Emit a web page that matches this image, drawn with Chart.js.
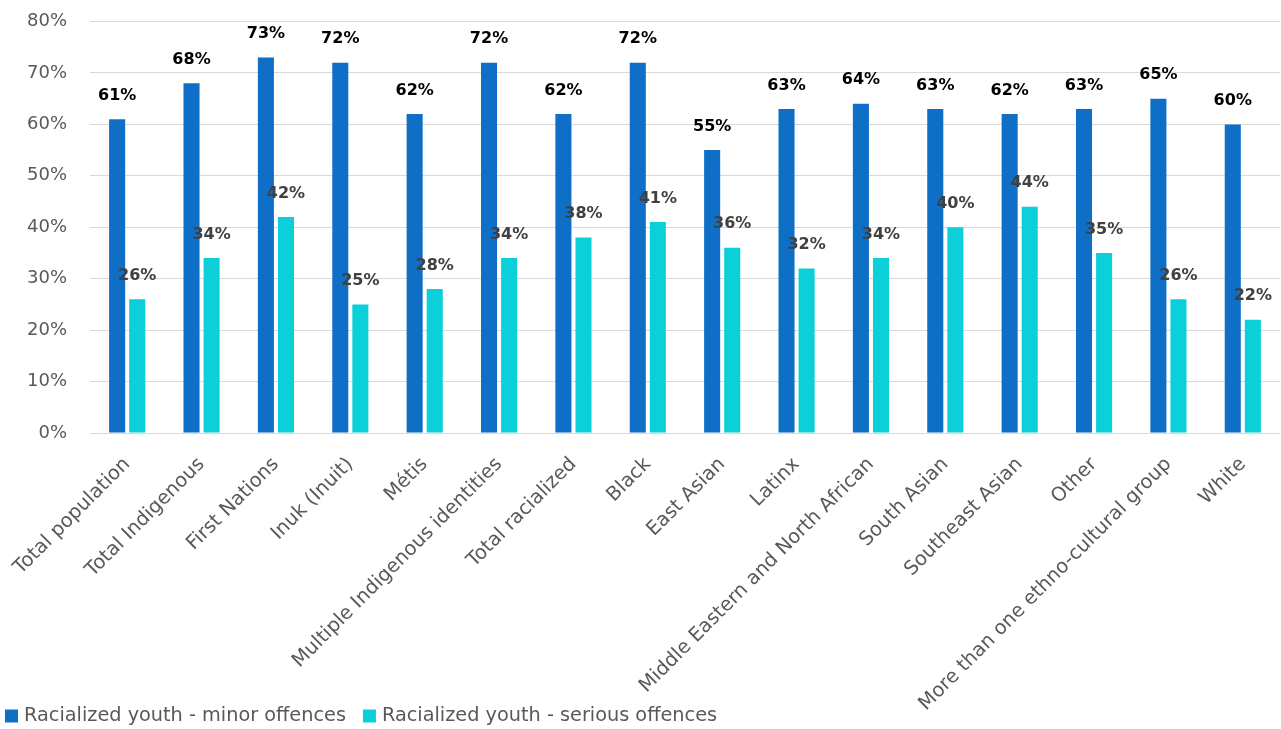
<!DOCTYPE html>
<html>
<head>
<meta charset="utf-8">
<title>Racialized youth – minor and serious offences</title>
<script src="https://cdn.jsdelivr.net/npm/chart.js@4/dist/chart.umd.min.js"></script>
<style>
  html, body { margin: 0; padding: 0; background: #ffffff; }
  #wrap { position: relative; width: 1281px; height: 729px; }
</style>
</head>
<body>
<div id="wrap"><canvas id="chart"></canvas></div>
<script>
const categories = [
  'Total population', 'Total Indigenous', 'First Nations', 'Inuk (Inuit)', 'Métis',
  'Multiple Indigenous identities', 'Total racialized', 'Black', 'East Asian', 'Latinx',
  'Middle Eastern and North African', 'South Asian', 'Southeast Asian', 'Other',
  'More than one ethno-cultural group', 'White'
];
const minorOffences   = [61, 68, 73, 72, 62, 72, 62, 72, 55, 63, 64, 63, 62, 63, 65, 60];
const seriousOffences = [26, 34, 42, 25, 28, 34, 38, 41, 36, 32, 34, 40, 44, 35, 26, 22];
const seriesNames = ['Racialized youth - minor offences', 'Racialized youth - serious offences'];
const yTicks = [0, 10, 20, 30, 40, 50, 60, 70, 80];

const FONT = '"DejaVu Sans", sans-serif';
const barColors = ['#0F6FC6', '#0BD0D9'];
const valueColors = ['#000000', '#404040'];

// Percent values printed above each bar
const valueLabels = {
  id: 'valueLabels',
  afterDatasetsDraw(chart) {
    const ctx = chart.ctx;
    ctx.save();
    ctx.font = 'bold 16px ' + FONT;
    ctx.textAlign = 'center';
    ctx.textBaseline = 'middle';
    chart.data.datasets.forEach((ds, i) => {
      const meta = chart.getDatasetMeta(i);
      ctx.fillStyle = valueColors[i];
      meta.data.forEach((bar, j) => {
        ctx.fillText(ds.data[j] + '%', bar.x, bar.y - 23.5);
      });
    });
    ctx.restore();
  }
};

// Legend row in the bottom-left corner
const bottomLegend = {
  id: 'bottomLegend',
  afterDraw(chart) {
    const ctx = chart.ctx;
    ctx.save();
    ctx.font = '19.3px ' + FONT;
    ctx.textBaseline = 'middle';
    ctx.textAlign = 'left';
    const cy = 716;
    let x = 5;
    chart.data.datasets.forEach((ds, i) => {
      ctx.fillStyle = ds.backgroundColor;
      ctx.fillRect(x, cy - 6.5, 13, 13);
      ctx.fillStyle = '#595959';
      ctx.fillText(ds.label, x + 19, cy);
      x += 19 + ctx.measureText(ds.label).width + 17;
    });
    ctx.restore();
  }
};

new Chart(document.getElementById('chart'), {
  type: 'bar',
  data: {
    labels: categories,
    datasets: [
      { label: seriesNames[0], data: minorOffences, backgroundColor: barColors[0],
        categoryPercentage: 0.54, barPercentage: 0.8 },
      { label: seriesNames[1], data: seriousOffences, backgroundColor: barColors[1],
        categoryPercentage: 0.54, barPercentage: 0.8 }
    ]
  },
  options: {
    responsive: true,
    maintainAspectRatio: false,
    animation: false,
    layout: { padding: { top: 21.5, right: 1, left: 0, bottom: 0 } },
    plugins: {
      legend: { display: false },
      tooltip: { enabled: false }
    },
    scales: {
      x: {
        grid: { display: false, drawTicks: false },
        border: { display: false },
        ticks: {
          autoSkip: false,
          maxRotation: 45,
          minRotation: 45,
          padding: 20,
          color: '#595959',
          font: { family: FONT, size: 19.5 }
        },
        afterFit(scale) {
          scale.height = 296;
          // rotated labels may overhang the left edge without shrinking the plot
          scale.paddingLeft = 0;
          scale.paddingRight = 0;
        }
      },
      y: {
        min: 0,
        max: 80,
        afterBuildTicks(scale) { scale.ticks = yTicks.map(v => ({ value: v })); },
        grid: { color: '#d9d9d9', lineWidth: 1, drawTicks: false },
        border: { display: false },
        ticks: {
          padding: 23,
          color: '#595959',
          font: { family: FONT, size: 18 },
          callback: v => v + '%'
        },
        afterFit(scale) {
          scale.width = 90;
          // keep the horizontal label gap from adding vertical space
          scale.paddingTop = 10;
          scale.paddingBottom = 10;
        }
      }
    }
  },
  plugins: [valueLabels, bottomLegend]
});
</script>
</body>
</html>
